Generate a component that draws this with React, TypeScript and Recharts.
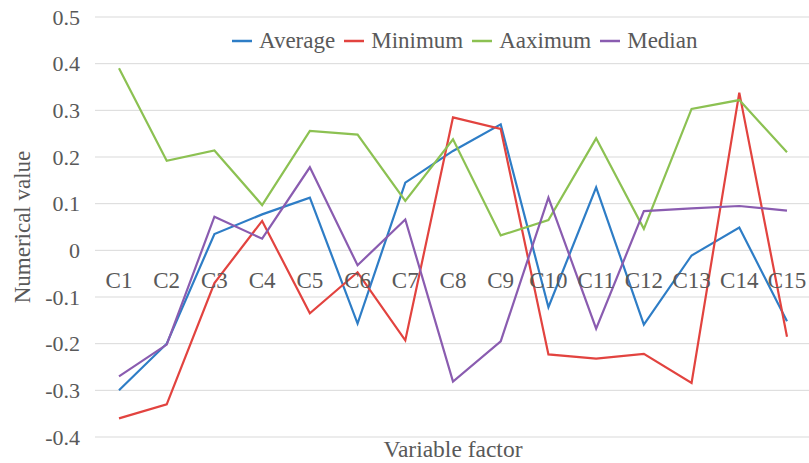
import React from 'react';
import { LineChart, Line, CartesianGrid, XAxis, YAxis, Legend } from 'recharts';

const categories = ['C1', 'C2', 'C3', 'C4', 'C5', 'C6', 'C7', 'C8', 'C9', 'C10', 'C11', 'C12', 'C13', 'C14', 'C15'];
const average = [-0.3, -0.2, 0.035, 0.077, 0.113, -0.157, 0.145, 0.213, 0.27, -0.122, 0.135, -0.159, -0.011, 0.049, -0.152];
const minimum = [-0.36, -0.33, -0.07, 0.063, -0.135, -0.047, -0.193, 0.285, 0.26, -0.223, -0.232, -0.222, -0.284, 0.338, -0.185];
const maximum = [0.39, 0.192, 0.214, 0.097, 0.256, 0.248, 0.106, 0.238, 0.032, 0.065, 0.24, 0.046, 0.303, 0.322, 0.21];
const median = [-0.27, -0.202, 0.072, 0.025, 0.178, -0.032, 0.066, -0.281, -0.195, 0.113, -0.168, 0.084, 0.09, 0.095, 0.085];
const yTicks = [-0.4, -0.3, -0.2, -0.1, 0, 0.1, 0.2, 0.3, 0.4, 0.5];
const seriesNames = ['Average', 'Minimum', 'Aaximum', 'Median'];

const data = categories.map((name, i) => ({
    name,
    Average: average[i],
    Minimum: minimum[i],
    Aaximum: maximum[i],
    Median: median[i],
}));

const FONT = "'Times New Roman', 'Liberation Serif', Times, serif";
const TEXT = '#595959';

const LegendBox = ({ payload }: any) => {
    const items = [...(payload || [])].sort((a: any, b: any) => seriesNames.indexOf(a.value) - seriesNames.indexOf(b.value));
    return (
        <div style={{ display: 'flex', alignItems: 'center', fontFamily: FONT, fontSize: 23, color: TEXT, whiteSpace: 'nowrap' }}>
            {items.map((p: any) => (
                <div key={p.value} style={{ display: 'flex', alignItems: 'center', marginRight: 9 }}>
                    <svg width={20} height={4} style={{ marginRight: 7 }}>
                        <line x1={0} y1={2} x2={20} y2={2} stroke={p.color} strokeWidth={2.5} />
                    </svg>
                    <span>{p.value}</span>
                </div>
            ))}
        </div>
    );
};

const XTick = ({ x, y, payload }: any) => (
    <text x={x} y={y} dy={-149} textAnchor="middle" fill={TEXT} style={{ fontFamily: FONT }} fontSize={23}>
        {payload.value}
    </text>
);

const App = () => {
    return (
        <div style={{ position: 'absolute', left: 0, top: 0, background: '#fff', fontFamily: FONT }}>
            <LineChart width={809} height={463} data={data} margin={{ top: 17, right: 0, bottom: 0, left: 0 }}>
                <CartesianGrid vertical={false} stroke="#d9d9d9" strokeWidth={1} />
                <XAxis
                    dataKey="name"
                    axisLine={false}
                    tickLine={false}
                    tickSize={0}
                    tickMargin={0}
                    height={26}
                    interval={0}
                    padding={{ left: 24, right: 22 }}
                    tick={<XTick />}
                    label={{
                        content: () => (
                            <text x={453} y={457} textAnchor="middle" fill={TEXT} style={{ fontFamily: FONT }} fontSize={23.5}>
                                Variable factor
                            </text>
                        ),
                    }}
                />
                <YAxis
                    domain={[-0.4, 0.5]}
                    ticks={yTicks}
                    width={95}
                    axisLine={false}
                    tickLine={false}
                    tickMargin={9}
                    tick={{ fill: TEXT, style: { fontFamily: FONT }, fontSize: 22 }}
                    label={{
                        content: ({ viewBox }: any) => {
                            const cx = 22;
                            const cy = viewBox.y + viewBox.height / 2;
                            return (
                                <text x={cx} y={cy} textAnchor="middle" dominantBaseline="central" transform={`rotate(-90, ${cx}, ${cy})`} fill={TEXT} style={{ fontFamily: FONT }} fontSize={23}>
                                    Numerical value
                                </text>
                            );
                        },
                    }}
                />
                <Legend
                    layout="horizontal"
                    verticalAlign="middle"
                    align="center"
                    content={<LegendBox />}
                    wrapperStyle={{ top: 28, left: 232, width: 570 }}
                />
                <Line dataKey="Average" stroke="#2e7dc6" strokeWidth={2.2} dot={false} isAnimationActive={false} />
                <Line dataKey="Minimum" stroke="#e2433f" strokeWidth={2.2} dot={false} isAnimationActive={false} />
                <Line dataKey="Aaximum" stroke="#8cc152" strokeWidth={2.2} dot={false} isAnimationActive={false} />
                <Line dataKey="Median" stroke="#8a5cb0" strokeWidth={2.2} dot={false} isAnimationActive={false} />
            </LineChart>
        </div>
    );
};

export default App;
